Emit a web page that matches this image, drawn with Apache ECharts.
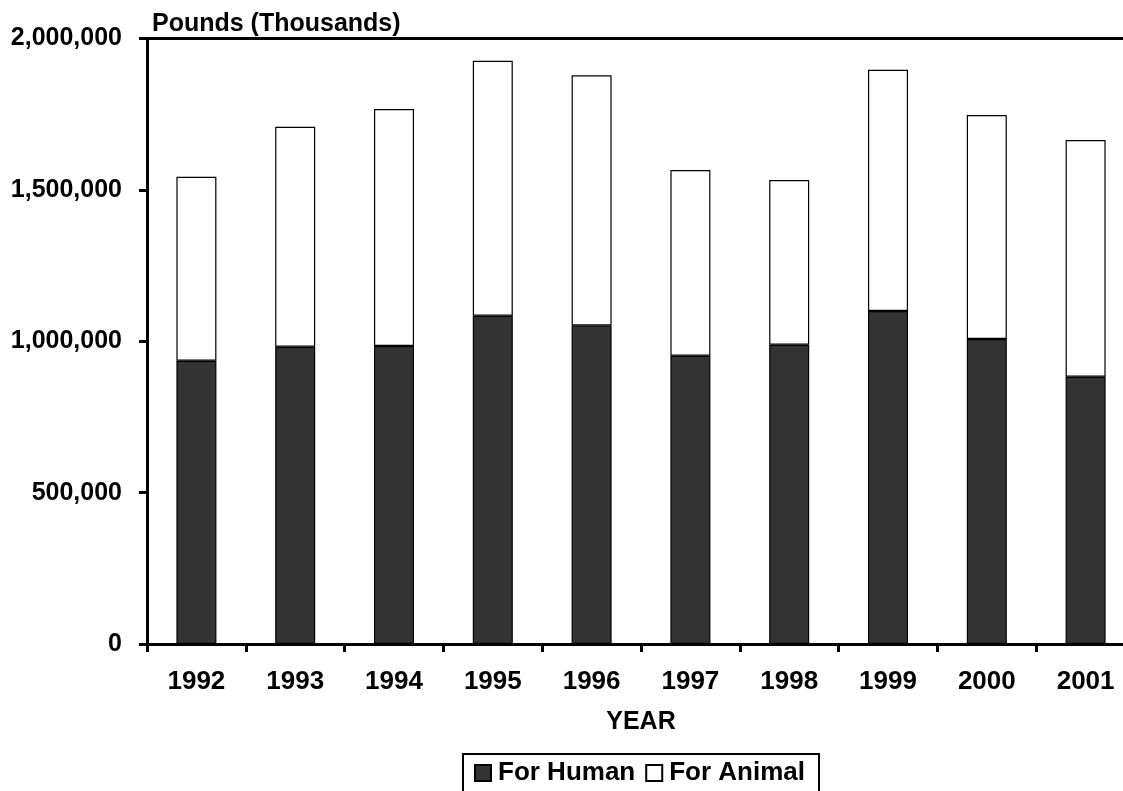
<!DOCTYPE html>
<html>
<head>
<meta charset="utf-8">
<script src="https://cdn.jsdelivr.net/npm/echarts@6/dist/echarts.min.js"></script>
<style>
html,body{margin:0;padding:0;background:#fff;}
#chart{width:1123px;height:791px;}
</style>
</head>
<body>
<div id="chart"></div>
<script>
const years = ['1992','1993','1994','1995','1996','1997','1998','1999','2000','2001'];
const forHuman = [935700, 981900, 984200, 1084300, 1052500, 952200, 988500, 1099800, 1007300, 882800];
const forAnimal = [607600, 726500, 782700, 842100, 825700, 613200, 543900, 796900, 739800, 781700];
const yTicks = [0, 500000, 1000000, 1500000, 2000000];

const FONT = '"Liberation Sans", Arial, sans-serif';
const chart = echarts.init(document.getElementById('chart'), null, {renderer: 'canvas'});
chart.setOption({
  backgroundColor: '#ffffff',
  animation: false,
  textStyle: {fontFamily: FONT},
  grid: {left: 147, top: 38.5, width: 988, height: 605.5, containLabel: false, outerBoundsMode: 'none'},
  title: {
    text: 'Pounds (Thousands)', left: 147, top: 6.5,
    textStyle: {fontFamily: FONT, fontWeight: 'bold', fontSize: 25, color: '#000'}
  },
  legend: {
    data: ['For Human', 'For Animal'],
    left: 463, top: 754,
    orient: 'horizontal',
    icon: 'rect',
    itemWidth: 16, itemHeight: 16, itemGap: 10,
    padding: [6, 14, 10, 11],
    borderColor: '#000', borderWidth: 2,
    textStyle: {fontFamily: FONT, fontWeight: 'bold', fontSize: 26, color: '#000', padding: [0, 0, 0, 2]}
  },
  xAxis: [{
    type: 'category',
    data: years,
    position: 'bottom',
    name: 'YEAR', nameLocation: 'middle', nameGap: 65.5,
    nameTextStyle: {fontFamily: FONT, fontWeight: 'bold', fontSize: 25, color: '#000'},
    axisLine: {show: true, lineStyle: {color: '#000', width: 3}},
    axisTick: {show: true, length: 8, lineStyle: {color: '#000', width: 3}},
    axisLabel: {fontFamily: FONT, fontWeight: 'bold', fontSize: 26, color: '#000', margin: 25},
    splitLine: {show: false}
  }, {
    type: 'category',
    data: years,
    position: 'top',
    axisLine: {show: true, lineStyle: {color: '#000', width: 3}},
    axisTick: {show: false},
    axisLabel: {show: false},
    splitLine: {show: false}
  }],
  yAxis: {
    type: 'value',
    min: yTicks[0], max: yTicks[yTicks.length - 1], interval: yTicks[1] - yTicks[0],
    axisLine: {show: true, lineStyle: {color: '#000', width: 3}},
    axisTick: {show: true, length: 8, lineStyle: {color: '#000', width: 3}},
    axisLabel: {
      fontFamily: FONT, fontWeight: 'bold', fontSize: 25, color: '#000', margin: 25,
      formatter: v => v.toLocaleString('en-US')
    },
    splitLine: {show: false}
  },
  series: [{
    name: 'For Human', type: 'bar', stack: 'total', barWidth: 40,
    data: forHuman,
    itemStyle: {color: '#333333', borderColor: '#000', borderWidth: 1.2}
  }, {
    name: 'For Animal', type: 'bar', stack: 'total', barWidth: 40,
    data: forAnimal,
    itemStyle: {color: '#ffffff', borderColor: '#000', borderWidth: 1.2}
  }]
});
</script>
</body>
</html>
